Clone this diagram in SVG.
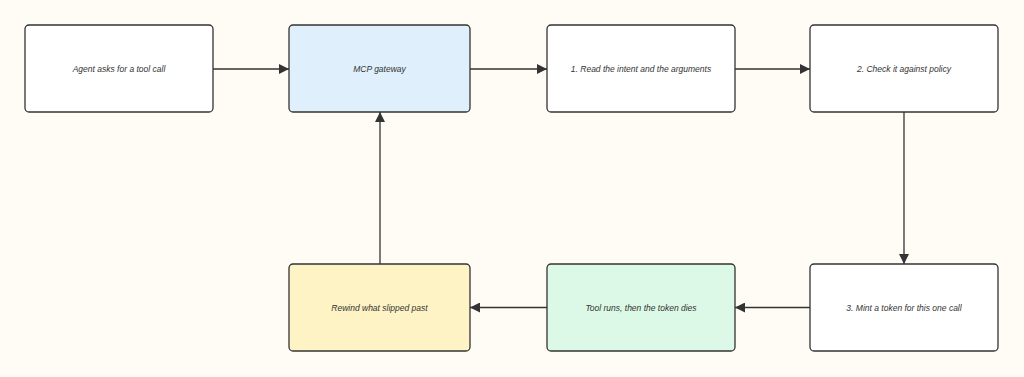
<svg xmlns="http://www.w3.org/2000/svg" width="1024" height="377" viewBox="0 0 1024 377">
<style>
.bg{fill:#fffcf5}
.n rect{stroke:#333;stroke-width:1.3;fill:#fff}
.n text{font-family:"Liberation Sans",Arial,sans-serif;font-size:8.5px;font-style:italic;fill:#333;text-anchor:middle;dominant-baseline:central}
.e line{stroke:#333;stroke-width:1.3;marker-end:url(#arr)}
</style>
<defs>
<marker id="arr" viewBox="0 0 10 10" refX="10" refY="5" markerWidth="10" markerHeight="10" markerUnits="userSpaceOnUse" orient="auto">
<path d="M0,0L10,5L0,10z" fill="#333"/>
</marker>
</defs>
<rect class="bg" x="0" y="0" width="1024" height="377"/>
<g class="e">
<line x1="213" y1="69" x2="289" y2="69"/>
<line x1="470" y1="69" x2="547" y2="69"/>
<line x1="735" y1="69" x2="810" y2="69"/>
<line x1="904" y1="112" x2="904" y2="264"/>
<line x1="810" y1="307.5" x2="735" y2="307.5"/>
<line x1="547" y1="307.5" x2="470" y2="307.5"/>
<line x1="380" y1="264" x2="380" y2="112"/>
</g>
<g id="agent" class="n"><rect x="25" y="25" width="188" height="87" rx="4"/><text x="119" y="69">Agent asks for a tool call</text></g>
<g id="gateway" class="n"><rect x="289" y="25" width="181" height="87" rx="4" style="fill:#dff0fc"/><text x="379.5" y="69">MCP gateway</text></g>
<g id="read" class="n"><rect x="547" y="25" width="188" height="87" rx="4"/><text x="641" y="69">1. Read the intent and the arguments</text></g>
<g id="check" class="n"><rect x="810" y="25" width="188" height="87" rx="4"/><text x="904" y="69">2. Check it against policy</text></g>
<g id="mint" class="n"><rect x="810" y="264" width="188" height="87" rx="4"/><text x="904" y="307.5">3. Mint a token for this one call</text></g>
<g id="tool" class="n"><rect x="547" y="264" width="188" height="87" rx="4" style="fill:#dcf8e6"/><text x="641" y="307.5">Tool runs, then the token dies</text></g>
<g id="rewind" class="n"><rect x="289" y="264" width="181" height="87" rx="4" style="fill:#fdf3c4"/><text x="379.5" y="307.5">Rewind what slipped past</text></g>
</svg>
